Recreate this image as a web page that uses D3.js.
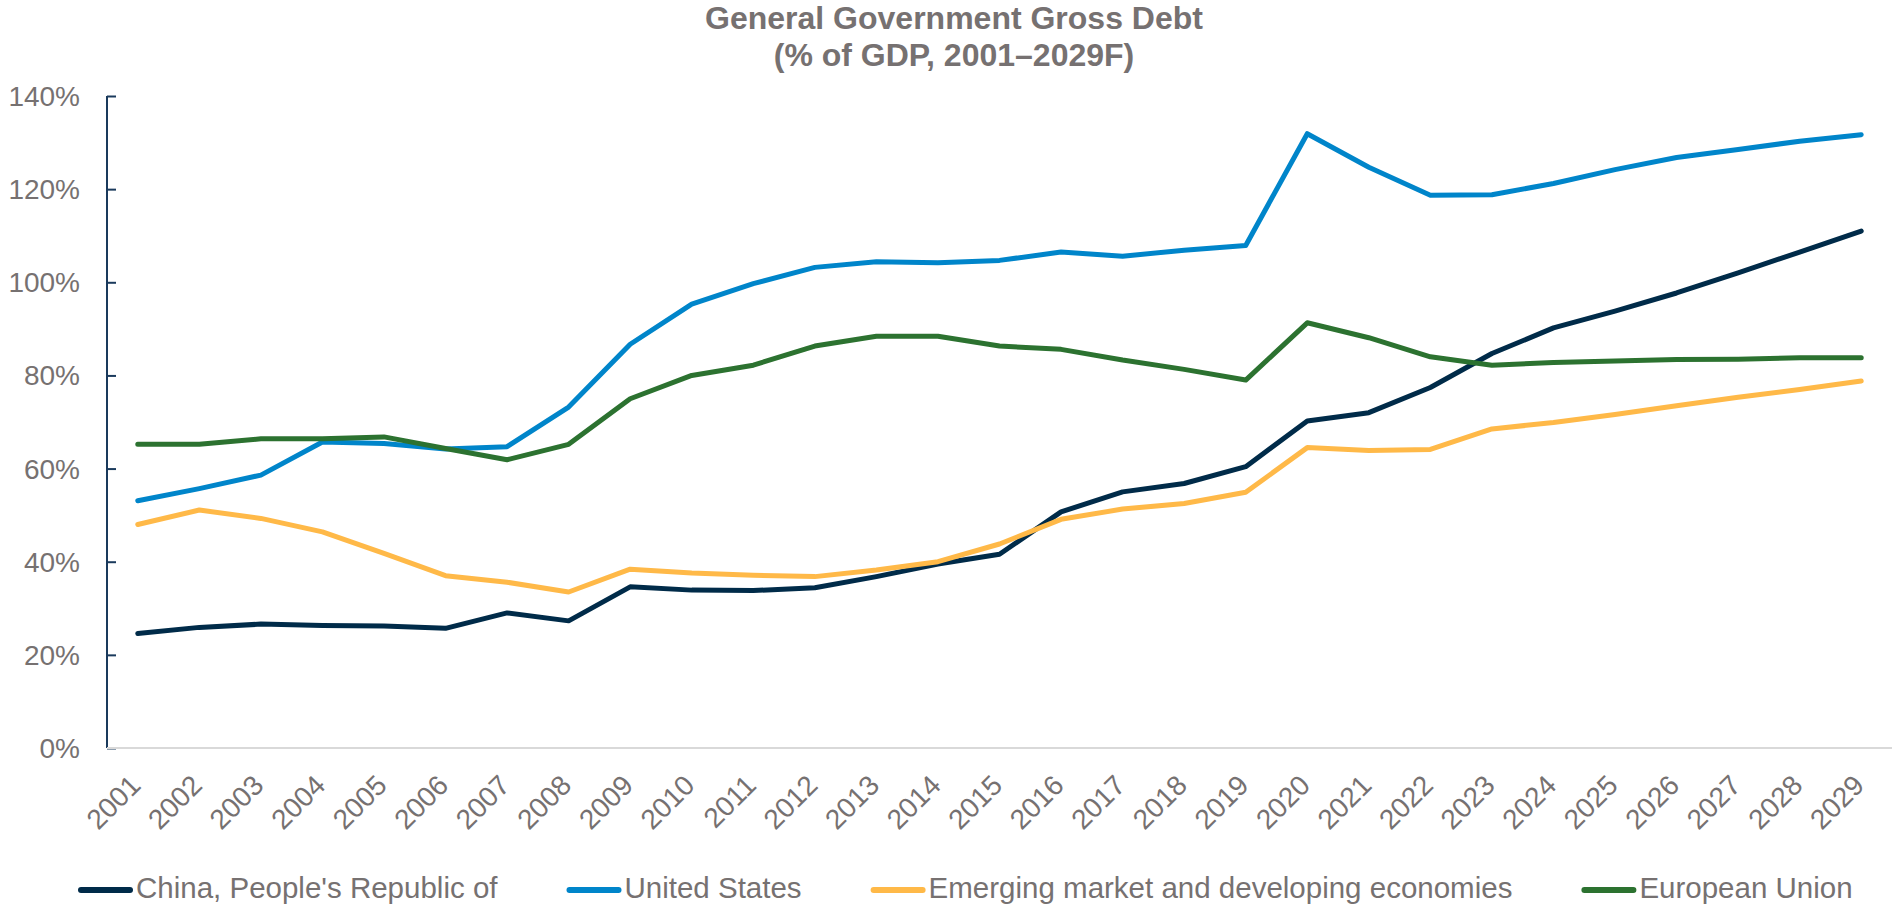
<!DOCTYPE html>
<html>
<head>
<meta charset="utf-8">
<script src="https://cdn.jsdelivr.net/npm/d3@7"></script>
<style>
  html, body { margin: 0; padding: 0; background: #ffffff; }
  svg { display: block; font-family: "Liberation Sans", Arial, Helvetica, sans-serif; }
</style>
</head>
<body>
<svg id="chart" width="1892" height="908"></svg>
<script>
// General government gross debt, % of GDP (2025–2029 are forecasts)
const years = ["2001","2002","2003","2004","2005","2006","2007","2008","2009","2010",
  "2011","2012","2013","2014","2015","2016","2017","2018","2019","2020",
  "2021","2022","2023","2024","2025","2026","2027","2028","2029"];

const china = [24.6, 25.9, 26.6, 26.3, 26.2, 25.7, 29.0, 27.3, 34.6, 33.9,
  33.8, 34.4, 36.8, 39.5, 41.6, 50.7, 55.0, 56.8, 60.4, 70.2,
  72.0, 77.4, 84.7, 90.2, 93.8, 97.7, 102.0, 106.5, 111.0];

const unitedStates = [53.1, 55.7, 58.6, 65.7, 65.4, 64.2, 64.7, 73.2, 86.7, 95.3,
  99.7, 103.2, 104.4, 104.2, 104.7, 106.5, 105.6, 106.9, 107.9, 131.9,
  124.7, 118.7, 118.8, 121.2, 124.2, 126.8, 128.5, 130.3, 131.7];

const emerging = [48.0, 51.1, 49.3, 46.4, 41.8, 37.0, 35.6, 33.5, 38.4, 37.6,
  37.1, 36.8, 38.2, 40.0, 43.8, 49.1, 51.3, 52.5, 54.9, 64.5,
  63.9, 64.1, 68.5, 69.9, 71.6, 73.5, 75.3, 77.0, 78.8];

const europeanUnion = [65.2, 65.2, 66.4, 66.4, 66.8, 64.3, 61.9, 65.2, 75.0, 80.0,
  82.2, 86.3, 88.4, 88.4, 86.3, 85.6, 83.3, 81.3, 79.0, 91.3,
  88.1, 84.0, 82.2, 82.8, 83.1, 83.4, 83.5, 83.8, 83.8];

const seriesNames = ["China, People's Republic of", "United States",
  "Emerging market and developing economies", "European Union"];
const seriesColors = ["#002b49", "#0085ca", "#ffb948", "#2c7230"];
const yTicks = [0, 20, 40, 60, 80, 100, 120, 140];
const titleLines = ["General Government Gross Debt", "(% of GDP, 2001\u20132029F)"];

const seriesValues = [china, unitedStates, emerging, europeanUnion];
const series = seriesNames.map((name, i) => ({ name, color: seriesColors[i], values: seriesValues[i] }));

const textGray = "#767171";
const svg = d3.select("#chart");

const plot = { left: 107, right: 1892, top: 96, bottom: 748 };

const x = d3.scalePoint().domain(years).range([plot.left, plot.right]).padding(0.5);
const y = d3.scaleLinear().domain([0, 140]).range([plot.bottom, plot.top]);

// Title
svg.append("text")
  .attr("x", 954).attr("y", 29)
  .attr("text-anchor", "middle")
  .attr("fill", textGray)
  .style("font-size", "32px").style("font-weight", "bold")
  .selectAll("tspan").data(titleLines).join("tspan")
  .attr("x", 954)
  .attr("dy", (d, i) => i === 0 ? 0 : 37)
  .text(d => d);

// Y axis with inward ticks
const yAxis = svg.append("g")
  .attr("transform", `translate(${plot.left},0)`)
  .call(d3.axisLeft(y).tickValues(yTicks).tickSize(-9).tickPadding(0).tickFormat(d => d + "%"));
yAxis.select(".domain").attr("stroke", "#1a3a5c").attr("stroke-width", 2)
  .attr("d", `M0,${plot.top}V${plot.bottom}`);
yAxis.selectAll(".tick line").attr("stroke", "#1a3a5c").attr("stroke-width", 2);
yAxis.selectAll(".tick text")
  .attr("x", -27).attr("dy", "0.34em")
  .attr("fill", textGray)
  .style("font-size", "28px").style("font-family", "inherit");

// Baseline at 0%
svg.append("line")
  .attr("x1", plot.left).attr("x2", plot.right)
  .attr("y1", y(0)).attr("y2", y(0))
  .attr("stroke", "#d9d9d9").attr("stroke-width", 2);

// X axis labels, rotated
const xAxis = svg.append("g")
  .attr("transform", `translate(0,${plot.bottom})`)
  .call(d3.axisBottom(x).tickSize(0));
xAxis.select(".domain").remove();
xAxis.selectAll(".tick text")
  .attr("x", 0).attr("y", 0).attr("dy", 0)
  .attr("transform", "translate(4,39) rotate(-45)")
  .style("text-anchor", "end")
  .attr("fill", textGray)
  .style("font-size", "28px").style("font-family", "inherit");

// Lines
const line = d3.line()
  .x((d, i) => x(years[i]))
  .y(d => y(d));

svg.append("g").selectAll("path").data(series).join("path")
  .attr("d", d => line(d.values))
  .attr("fill", "none")
  .attr("stroke", d => d.color)
  .attr("stroke-width", 5)
  .attr("stroke-linejoin", "round")
  .attr("stroke-linecap", "round");

// Legend
const legend = svg.append("g").attr("transform", "translate(79,890)");
let lx = 0;
series.forEach(s => {
  const item = legend.append("g").attr("transform", `translate(${lx},0)`);
  item.append("line")
    .attr("x1", 2).attr("x2", 51).attr("y1", 0).attr("y2", 0)
    .attr("stroke", s.color).attr("stroke-width", 6).attr("stroke-linecap", "round");
  const t = item.append("text")
    .attr("x", 57).attr("y", 8)
    .attr("fill", textGray)
    .style("font-size", "29.5px")
    .text(s.name);
  lx += 57 + t.node().getComputedTextLength() + 70;
});
</script>
</body>
</html>
